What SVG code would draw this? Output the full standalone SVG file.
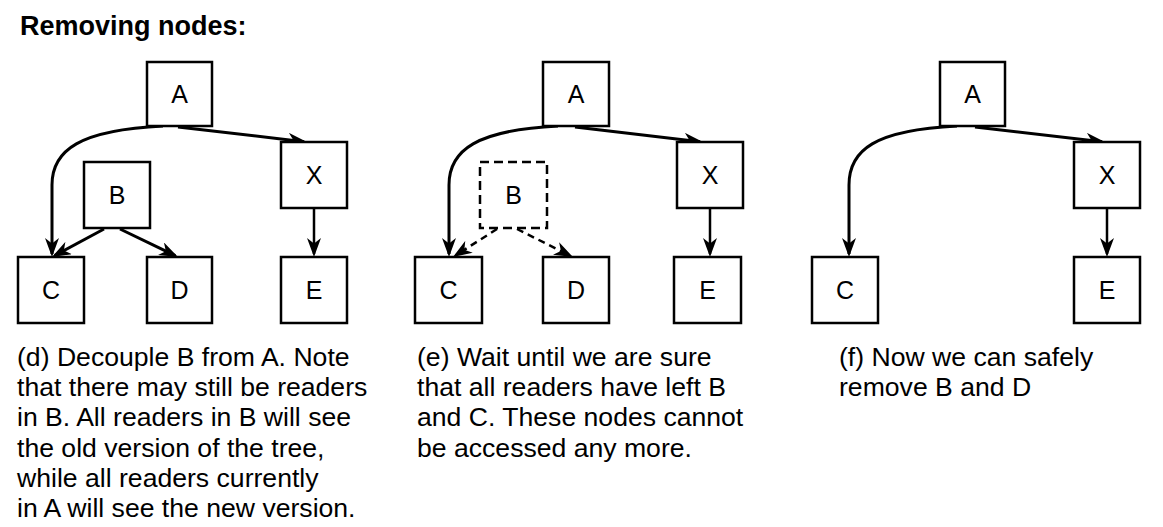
<svg xmlns="http://www.w3.org/2000/svg" width="1163" height="527" viewBox="0 0 1163 527">
<style>
.box{fill:#fff;stroke:#000;stroke-width:2.5}
.dbox{fill:#fff;stroke:#000;stroke-width:2.5;stroke-dasharray:9 5}
.lbl{font-family:"Liberation Sans",Arial,sans-serif;font-size:25px;text-anchor:middle;fill:#000}
.cap{font-family:"Liberation Sans",Arial,sans-serif;font-size:26.6px;fill:#000}
.title{font-family:"Liberation Sans",Arial,sans-serif;font-size:27px;font-weight:bold;fill:#000}
.e{fill:none;stroke:#000;stroke-width:3;marker-end:url(#ah)}
.e2{fill:none;stroke:#000;stroke-width:2.5;marker-end:url(#ah)}
.ed{fill:none;stroke:#000;stroke-width:2.5;stroke-dasharray:7 5;marker-end:url(#ah)}
</style>
<defs>
<marker id="ah" viewBox="0 0 19 14" refX="16" refY="7" markerWidth="19" markerHeight="14" markerUnits="userSpaceOnUse" orient="auto">
<path d="M0,0 L19,7 L0,14 L5.5,7 z" fill="#000"/>
</marker>
</defs>
<rect width="1163" height="527" fill="#fff"/>
<text class="title" x="20" y="35">Removing nodes:</text>

<g id="connectors">
<path class="e" d="M163,126 C80,130 52,150 52,185 L52,254"/>
<path class="e" d="M178,127 L304,141.65"/>
<path class="e" d="M104,229 L54.6,255.6"/>
<path class="e" d="M120,229 L175.3,255.7"/>
<path class="e2" d="M314,208 L314,254"/>

<path class="e" d="M558,126 C477,130 449,150 449,185 L449,254"/>
<path class="e" d="M575,127 L700,141.65"/>
<path class="ed" d="M497,229 L455.5,255.4"/>
<path class="ed" d="M517,229 L570.3,255.7"/>
<path class="e2" d="M710,208 L710,254"/>

<path class="e" d="M957,126 C875,130 849,150 849,185 L849,254"/>
<path class="e" d="M975,127 L1102,141.65"/>
<path class="e2" d="M1107,208 L1107,254"/>
</g>

<g id="d-A"><rect class="box" x="147" y="62" width="65" height="64"/><text class="lbl" x="179.5" y="103">A</text></g>
<g id="d-X"><rect class="box" x="281" y="142" width="66" height="66"/><text class="lbl" x="314" y="184">X</text></g>
<g id="d-B"><rect class="box" x="84" y="162" width="66" height="66"/><text class="lbl" x="117" y="204">B</text></g>
<g id="d-C"><rect class="box" x="18" y="257" width="66" height="66"/><text class="lbl" x="51" y="299">C</text></g>
<g id="d-D"><rect class="box" x="147" y="257" width="65" height="66"/><text class="lbl" x="179.5" y="299">D</text></g>
<g id="d-E"><rect class="box" x="281" y="257" width="66" height="66"/><text class="lbl" x="314" y="299">E</text></g>

<g id="e-A"><rect class="box" x="543" y="62" width="66" height="64"/><text class="lbl" x="576" y="103">A</text></g>
<g id="e-X"><rect class="box" x="677" y="142" width="66" height="66"/><text class="lbl" x="710" y="184">X</text></g>
<g id="e-B"><rect class="dbox" x="480" y="162" width="67" height="66"/><text class="lbl" x="513.5" y="204">B</text></g>
<g id="e-C"><rect class="box" x="415" y="257" width="67" height="66"/><text class="lbl" x="448.5" y="299">C</text></g>
<g id="e-D"><rect class="box" x="543" y="257" width="66" height="66"/><text class="lbl" x="576" y="299">D</text></g>
<g id="e-E"><rect class="box" x="674" y="257" width="67" height="66"/><text class="lbl" x="707.5" y="299">E</text></g>

<g id="f-A"><rect class="box" x="940" y="62" width="65" height="64"/><text class="lbl" x="972.5" y="103">A</text></g>
<g id="f-X"><rect class="box" x="1074" y="142" width="66" height="66"/><text class="lbl" x="1107" y="184">X</text></g>
<g id="f-C"><rect class="box" x="812" y="257" width="66" height="66"/><text class="lbl" x="845" y="299">C</text></g>
<g id="f-E"><rect class="box" x="1074" y="257" width="66" height="66"/><text class="lbl" x="1107" y="299">E</text></g>

<g id="cap-d" class="cap">
<text x="17" y="366">(d) Decouple B from A. Note</text>
<text x="17" y="396">that there may still be readers</text>
<text x="17" y="426">in B. All readers in B will see</text>
<text x="17" y="457">the old version of the tree,</text>
<text x="17" y="487">while all readers currently</text>
<text x="17" y="517">in A will see the new version.</text>
</g>
<g id="cap-e" class="cap">
<text x="417" y="366">(e) Wait until we are sure</text>
<text x="417" y="396">that all readers have left B</text>
<text x="417" y="426">and C. These nodes cannot</text>
<text x="417" y="457">be accessed any more.</text>
</g>
<g id="cap-f" class="cap">
<text x="839" y="366">(f) Now we can safely</text>
<text x="839" y="396">remove B and D</text>
</g>
</svg>
